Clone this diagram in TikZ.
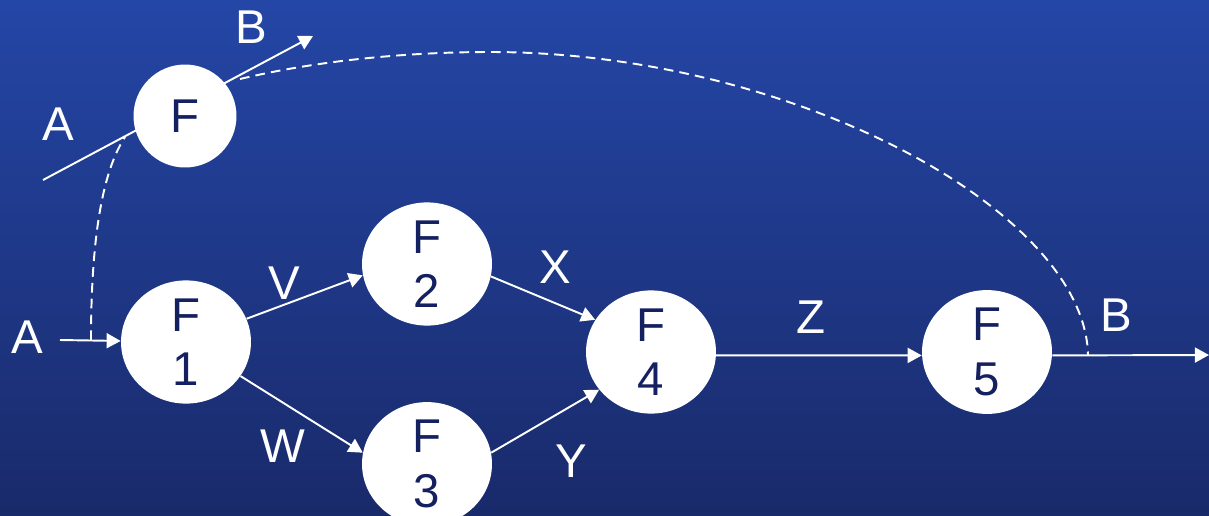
\documentclass[tikz,border=0pt]{standalone}
\usepackage{fontspec}
\setmainfont{Liberation Sans}
\usetikzlibrary{arrows.meta,shapes.geometric}
\definecolor{bgtop}{RGB}{36,70,166}
\definecolor{bgbot}{RGB}{25,42,106}
\definecolor{inktxt}{RGB}{20,32,96}
\tikzset{
  proc/.style={ellipse, fill=white, draw=none, inner sep=0pt, minimum width=2.6cm, minimum height=2.08cm,
    align=center, text=inktxt, font=\fontsize{27}{31}\selectfont},
  topf/.style={circle, fill=white, draw=none, inner sep=0pt, minimum size=2.06cm,
    text=inktxt, font=\fontsize{27}{31}\selectfont},
  lab/.style={inner sep=0pt, text=white, font=\fontsize{27}{31}\selectfont},
  flow/.style={draw=white, line width=1.1pt, -{Triangle[length=8pt,width=8.5pt]}},
  plain/.style={draw=white, line width=1.1pt},
  dlink/.style={draw=white, line width=1.1pt, dash pattern=on 5.5pt off 3.5pt}
}
\begin{document}
\begin{tikzpicture}[x=0.02cm, y=-0.02cm]
\useasboundingbox (0,0) rectangle (1209,515);
\shade[top color=bgtop, bottom color=bgbot] (0,0) rectangle (1209,515);
\clip (0,0) rectangle (1209,515);

% coordinates for free ends
\coordinate (aStart) at (43,180);
\coordinate (bEnd) at (313,36);
\coordinate (aIn) at (60,340);
\coordinate (dA) at (91,340);
\coordinate (dTop) at (125,137);
\coordinate (dArcS) at (240,79);
\coordinate (dPeak) at (490,52);
\coordinate (dArcE) at (1088,355);
\coordinate (outB) at (1209,355);

% top F line (behind circle)
\draw[flow] (aStart) -- (bEnd);

% nodes
\node[topf] (F) at (185,116) {F};
\node[proc] (F1) at (186,342) {F\\1};
\node[proc] (F2) at (427,264) {F\\2};
\node[proc] (F3) at (427,464) {F\\3};
\node[proc] (F4) at (651,352) {F\\4};
\node[proc] (F5) at (987,352) {F\\5};

% connectors
\draw[flow] (aIn) -- (F1);
\draw[flow] (F1.21) -- (F2.190);
\draw[flow] (F1.328) -- (F3.170);
\draw[flow] (F2.349) -- (F4.150);
\draw[flow] (F3.10) -- (F4.216);
\draw[flow] (F4.-3) -- (F5.183);
\draw[flow] (F5.-3) -- (outB);

% dashed links
\draw[dlink] (dA) .. controls (91,240) and (102,172) .. (dTop);
\draw[dlink] (dArcS) .. controls (320,60) and (410,52) .. (dPeak)
  .. controls (790,52) and (1085,210) .. (dArcE);

% labels
\node[lab] (lA1) at (27,337) {A};
\node[lab] (lA2) at (58,124) {A};
\node[lab] (lB1) at (251,27) {B};
\node[lab] (lV) at (284,283) {V};
\node[lab] (lW) at (283,446) {W};
\node[lab] (lX) at (555,267) {X};
\node[lab] (lY) at (571,461) {Y};
\node[lab] (lZ) at (811,317) {Z};
\node[lab] (lB2) at (1116,315) {B};
\end{tikzpicture}
\end{document}
